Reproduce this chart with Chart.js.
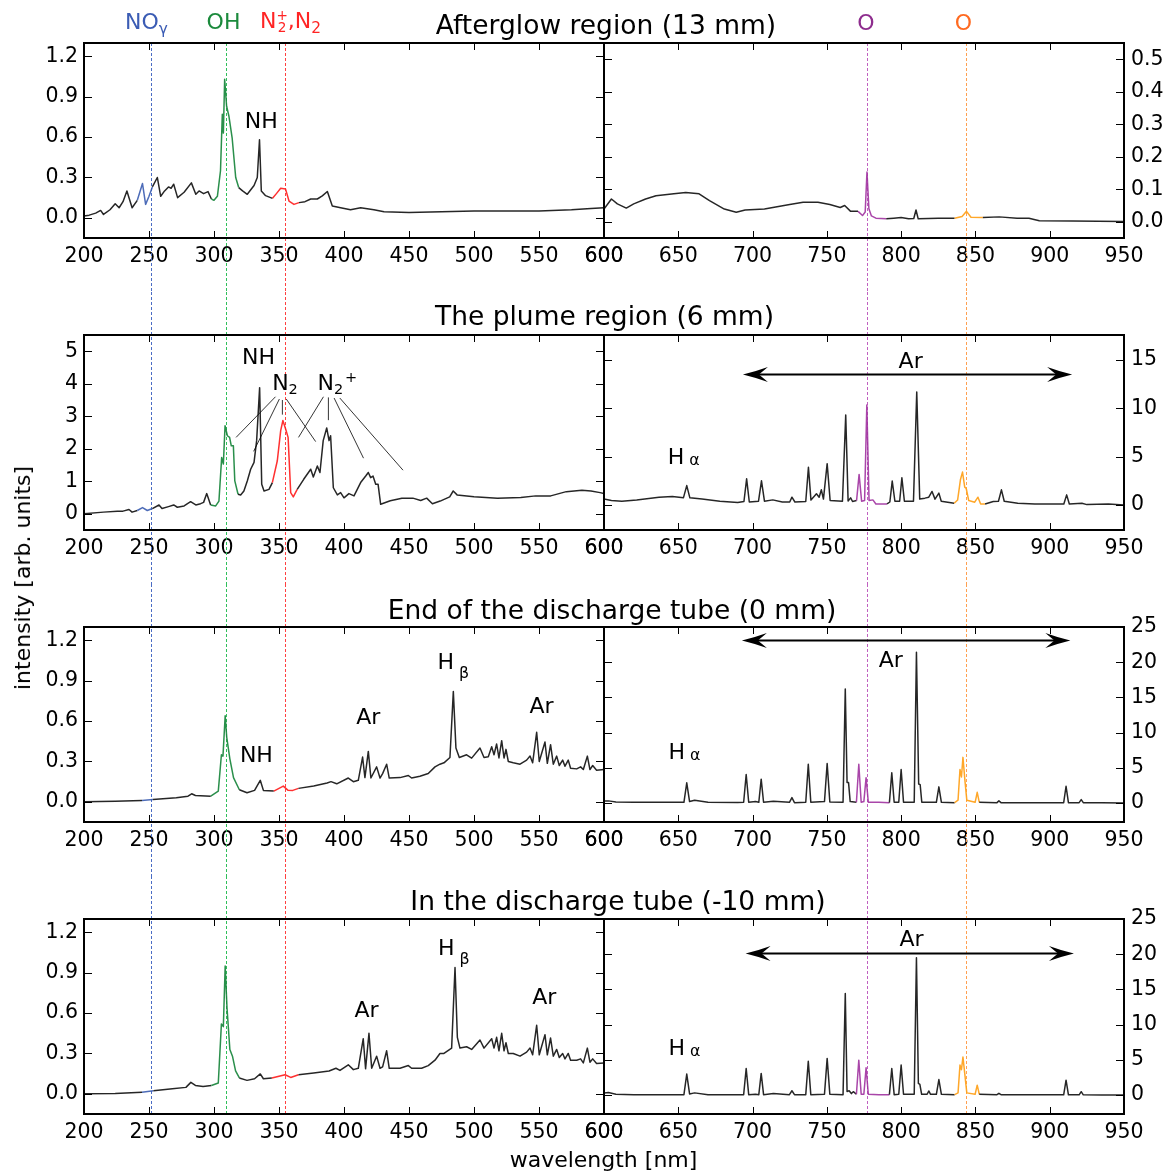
<!DOCTYPE html>
<html><head><meta charset="utf-8">
<script src="https://cdn.jsdelivr.net/npm/chart.js@4.4.1/dist/chart.umd.min.js"></script>
<style>
html,body{margin:0;padding:0;background:#fff;}
body{width:1169px;height:1175px;position:relative;overflow:hidden;font-family:'DejaVu Sans',sans-serif;color:#000;}
canvas{position:absolute;}
.lab{position:absolute;transform:translate(-50%,-50%);line-height:1;white-space:nowrap;z-index:5;}
.title{font-size:26.5px;}
.top{font-size:22px;}
.axl{font-size:22px;}
.sb{font-size:0.7em;position:relative;top:0.3em;}
.stk{display:inline-block;vertical-align:middle;font-size:0.62em;line-height:0.85;text-align:center;}
</style></head><body>
<div class="lab title" style="left:606px;top:25px">Afterglow region (13 mm)</div>
<div class="lab title" style="left:604.5px;top:316px">The plume region (6 mm)</div>
<div class="lab title" style="left:612px;top:609.5px">End of the discharge tube (0 mm)</div>
<div class="lab title" style="left:618px;top:901px">In the discharge tube (-10 mm)</div>
<div class="lab top" style="left:146.4px;top:22px;color:#3b5cb4">NO<span class="sb">γ</span></div>
<div class="lab top" style="left:223.5px;top:22px;color:#1b8a3c">OH</div>
<div class="lab top" style="left:290.5px;top:22px;color:#ff2424">N<span class="stk">+<br>2</span>,N<span class="sb">2</span></div>
<div class="lab top" style="left:866px;top:22.5px;color:#8e2d8e">O</div>
<div class="lab top" style="left:963.5px;top:22.5px;color:#ff6a20">O</div>
<div class="lab axl" style="left:23px;top:578px;transform:translate(-50%,-50%) rotate(-90deg)">intensity [arb. units]</div>
<div class="lab axl" style="left:603.5px;top:1160px">wavelength [nm]</div>
<script>
// ---------------- data ----------------
const X_TICKS_L = [200,250,300,350,400,450,500,550,600];
const X_TICKS_R = [600,650,700,750,800,850,900,950];
const Y_TICKS_FRAC = [0.0,0.3,0.6,0.9,1.2];
const Y_TICKS_AG_R = [0.0,0.1,0.2,0.3,0.4,0.5];
const Y_TICKS_PL_L = [0,1,2,3,4,5];
const Y_TICKS_PL_R = [0,5,10,15];
const Y_TICKS_25 = [0,5,10,15,20,25];

// Afterglow region (13 mm)
const AG_L_WL = [200,204,209,212.8,215,220,224,227,230,233,
 237,241,245,247.4,250,252.6,256.4,259,262,265,
 267,269,272,277,282.6,286,288.5,292,295.4,298,
 300,302.6,305,306.4,307.2,308.2,309.7,311.5,314,316.7,
 319,322,325.6,330.8,333.3,335,336.4,339.7,345,348,
 351.3,355,357.7,361.5,365.4,370,374.4,379.5,383.3,387.2,
 391,397.4,405,412.8,423,430.8,450,475,500,525,
 550,575,590,600];
const AG_L_I = [0.013,0.02,0.035,0.055,0.025,0.06,0.105,0.075,0.12,0.2,
 0.075,0.13,0.255,0.1,0.16,0.23,0.3,0.16,0.2,0.23,
 0.22,0.25,0.15,0.19,0.26,0.175,0.2,0.18,0.195,0.14,
 0.13,0.16,0.35,0.77,0.63,1.03,0.83,0.755,0.59,0.30,
 0.225,0.2,0.175,0.24,0.3,0.58,0.2,0.165,0.145,0.18,
 0.22,0.215,0.125,0.10,0.113,0.12,0.14,0.14,0.163,0.196,
 0.088,0.075,0.06,0.075,0.06,0.045,0.04,0.045,0.05,0.05,
 0.05,0.06,0.07,0.075];
const AG_R_WL = [600,605,609,615,620,628,635,647,655,664,
 671,681,689,695,708,725,734,744,752,759,
 762,766,771,774,775.8,777,778.3,780,783,790,
 795,800,805,808.5,810,811.5,825,836,841,844,
 847,855,866,878,886,893,915,950];
const AG_R_I = [0.039,0.07,0.055,0.042,0.055,0.07,0.08,0.086,0.09,0.086,
 0.065,0.039,0.029,0.036,0.039,0.053,0.06,0.06,0.053,0.044,
 0.05,0.032,0.032,0.019,0.03,0.153,0.04,0.018,0.011,0.009,
 0.011,0.013,0.009,0.01,0.036,0.009,0.011,0.011,0.016,0.032,
 0.014,0.013,0.015,0.011,0.011,0.003,0.002,0.001];

// The plume region (6 mm)
const PL_L_WL = [200,215,225.6,230,234.6,237,241,245,248.7,252.6,
 257.7,260,265,269,271.8,277,282,286,289.7,292,
 294.4,297.4,301.3,303.8,305.9,307.2,308.5,310.3,312,313.3,
 314.9,316,318.5,320.5,323,325.6,328.2,330.8,332.8,335.1,
 336.7,338.5,342.3,344.9,348.7,351.3,353,355.1,357,359,
 361,364,369,374.4,376.4,379.5,381.5,384,386.7,388.5,
 389.7,391.8,394.9,397.4,400,403.8,407.7,412.8,416.7,418.7,
 420.5,422.3,424.4,426.2,428.2,435.6,444.5,453,459,463.6,
 468,474,481.3,484,487,500,518,536,547.5,559,
 571,583,590,597,600];
const PL_L_I = [0,0.05,0.08,0.08,0.13,0.05,0.1,0.19,0.1,0.16,
 0.27,0.16,0.22,0.27,0.2,0.24,0.37,0.27,0.31,0.35,
 0.62,0.27,0.24,0.39,1.73,1.53,2.71,2.4,2.35,2.09,
 2.09,1.01,0.6,0.58,0.7,1.01,1.37,1.58,2.25,3.88,
 0.91,0.7,0.75,0.96,1.63,2.56,2.87,2.61,2.35,0.65,
 0.52,0.75,1.06,1.37,1.13,1.47,1.27,2.25,2.64,2.25,
 2.4,0.8,0.58,0.65,0.49,0.62,0.55,0.96,1.16,1.27,
 1.11,1.16,0.91,0.91,0.29,0.4,0.48,0.48,0.41,0.48,
 0.31,0.39,0.52,0.7,0.58,0.52,0.48,0.5,0.55,0.55,
 0.68,0.72,0.7,0.65,0.62];
const PL_R_WL = [600,605,612,622,637,646,653.5,655.7,657.8,666,
 678,690,694.2,696,697.8,704,706,708,713.6,720,
 725,726.5,728.5,735.8,737.6,739.3,743,744.8,746.3,747.7,
 750.2,752.2,760.5,762.7,764.3,766,767.3,770,771.7,773.4,
 775.4,776.9,778.4,781,783,790.5,792.4,794,795.8,799,
 800.5,802.2,808.3,810.5,812.5,816,818.6,820.8,822.8,825.4,
 827,835.7,838,839.9,841.3,842.8,843.8,845.5,849.5,851.7,
 853.5,856.5,862,865.5,867.5,869.4,878.5,890,900,909.5,
 911.4,913.2,921.7,925,939.5,950];
const PL_R_I = [0.6,0.45,0.38,0.52,0.8,0.87,0.75,2.0,0.73,0.6,
 0.38,0.24,0.35,2.7,0.3,0.38,2.5,0.38,0.52,0.3,
 0.3,0.8,0.3,0.35,3.9,0.5,1.15,0.8,1.56,0.6,
 4.27,0.45,0.38,9.3,0.4,0.73,0.35,0.45,3.16,0.38,
 0.45,10.35,0.45,0.52,0.1,0.1,0.3,2.47,0.38,0.38,
 2.8,0.38,0.38,11.7,0.6,0.7,0.8,1.39,0.6,1.22,
 0.38,0.17,0.5,2.6,3.4,1.84,1.7,0.45,0.28,0.8,
 0.1,0.1,0.35,0.38,1.56,0.38,0.17,0.1,0.1,0.1,
 1.04,0.1,0.17,0.03,0.1,0.0];

// End of the discharge tube (0 mm)
const EN_L_WL = [200,224,244.6,253,271,280,282.8,285.7,297.5,303.3,
 305.7,306.9,308.6,309.8,312.2,315,319.5,325.4,331.2,335.6,
 338,346,353.3,356.8,360.6,365,376.7,387,390,394.4,
 403.3,407.2,411.0,414.3,416.1,418.7,420.7,425.1,427.7,429.7,
 432.8,434.8,443.1,449.5,452.0,458.4,464.8,470.0,473.8,476.9,
 481.5,484.1,486.1,488.7,494.3,498.2,504.6,507.7,511.0,513.6,
 515.4,517.4,519.2,521.3,523.1,524.6,526.4,530.2,535.4,540.5,
 543.1,545.1,548.2,550.2,554.6,556.4,558.9,561.0,563.6,565.6,
 568.2,570.0,572.5,574.3,579.0,582.0,584.1,587.2,589.2,591.3,
 594.3,600];
const EN_L_I = [0,0.005,0.01,0.017,0.03,0.042,0.06,0.047,0.042,0.08,
 0.35,0.34,0.64,0.48,0.32,0.18,0.09,0.067,0.085,0.16,
 0.085,0.08,0.117,0.087,0.085,0.1,0.117,0.14,0.15,0.134,
 0.177,0.15,0.16,0.333,0.18,0.375,0.177,0.26,0.177,0.21,
 0.28,0.177,0.18,0.196,0.177,0.19,0.21,0.26,0.28,0.29,
 0.33,0.82,0.4,0.33,0.35,0.325,0.4,0.33,0.335,0.41,
 0.35,0.43,0.326,0.455,0.326,0.39,0.3,0.29,0.28,0.31,
 0.34,0.29,0.517,0.3,0.445,0.286,0.425,0.28,0.34,0.27,
 0.31,0.265,0.31,0.25,0.245,0.26,0.24,0.34,0.24,0.27,
 0.235,0.24];
const EN_R_WL = [600,603,608,620,640,653.8,655.7,657.6,661,670,
 690,694,695.7,697.4,702,704.2,705.8,707.4,714,724.8,
 726.5,728.2,735.8,737.5,739.2,748.4,750.2,752,760.9,762.4,
 763.6,764.6,765.7,769.9,771.5,773.1,774.9,776.4,777.9,785,
 792.1,793.7,795.3,798.4,800,801.6,808.8,810.3,811.8,812.8,
 813.9,823.7,825.4,827.1,836,838.3,839.6,840.6,841.6,842.8,
 844.2,849.8,851.2,852.6,864.5,865.8,867.2,880,909.4,911,
 912.6,919.8,921.2,922.6,935,950];
const EN_R_I = [0.3,0.3,0.15,0.12,0.1,0.1,2.86,0.2,0.4,0.1,
 0.08,0.1,4.05,0.1,0.2,0.1,3.38,0.1,0.25,0.1,
 0.76,0.05,0.1,5.5,0.1,0.2,5.6,0.15,0.1,16.2,
 2.9,2.9,0.2,0.1,5.5,0.1,0.2,3.6,0.1,0.1,
 0.05,4.3,0.1,0.1,4.76,0.1,0.1,21.4,2.7,2.6,
 0.1,0.1,2.29,0.1,0.05,0.4,4.76,3.7,6.48,3.5,
 0.4,0.1,1.52,0.1,0.05,0.3,0.05,0.05,0.05,2.38,
 0.05,0.05,0.48,0.05,0.02,0.0];

// In the discharge tube (-10 mm)
const IN_L_WL = [200,224,244.6,253.4,268,278.4,282.2,285.7,291.6,298,
 303.3,305.7,307.2,308.6,310,312.2,314.2,316.6,319.5,325.4,
 331.2,335.6,338,344.5,354.7,359,365,376.7,388.5,393.8,
 396.9,403.3,407.2,411.0,414.8,416.6,419.2,421.3,425.1,427.7,
 429.7,432.8,434.8,443.1,449.5,452.0,459.7,464.8,470.0,473.8,
 476.9,482.8,485.4,487.2,489.2,494.3,498.2,504.6,507.7,513.6,
 515.4,517.4,519.2,521.3,523.1,524.6,526.4,530.2,535.4,540.5,
 543.1,545.1,548.2,550.2,554.6,556.4,558.9,561.0,563.6,565.6,
 568.2,570.0,572.5,574.3,579.0,582.0,584.1,587.2,589.2,591.3,
 594.3,600];
const IN_L_I = [0,0.002,0.012,0.022,0.037,0.048,0.085,0.062,0.055,0.062,
 0.08,0.52,0.5,0.95,0.64,0.33,0.28,0.17,0.118,0.1,
 0.112,0.148,0.112,0.118,0.142,0.122,0.142,0.155,0.17,0.19,
 0.174,0.216,0.18,0.19,0.41,0.186,0.45,0.19,0.28,0.19,
 0.2,0.32,0.19,0.19,0.21,0.19,0.19,0.21,0.25,0.3,
 0.3,0.34,0.94,0.42,0.34,0.35,0.33,0.4,0.34,0.41,
 0.34,0.42,0.32,0.45,0.32,0.38,0.3,0.3,0.28,0.31,
 0.34,0.29,0.51,0.29,0.44,0.29,0.415,0.28,0.33,0.27,
 0.3,0.26,0.3,0.25,0.25,0.26,0.23,0.34,0.235,0.26,
 0.225,0.23];
const IN_R_WL = [600,603,608,620,640,653.8,655.7,657.6,661,670,
 690,694,695.7,697.4,702,704.2,705.8,707.4,714,724.8,
 726.5,728.2,735.8,737.5,739.2,748.4,750.2,752,760.9,762.4,
 763.6,765,766.5,767.8,769.9,771.5,773.1,774.9,776.4,777.9,
 785,792.1,793.7,795.3,798.4,800,801.6,808.8,810.3,811.6,
 812.6,813.8,817.5,818.6,819.8,823.7,825.4,827.1,836,838.3,
 839.6,840.6,841.6,842.8,844.2,849.8,851.2,852.6,864.5,865.8,
 867.2,880,909.4,911,912.6,919.8,921.2,922.6,935,950];
const IN_R_I = [0.3,0.35,0.1,0.05,0.05,0.05,2.97,0.15,0.3,0.05,
 0.05,0.05,3.77,0.05,0.1,0.05,3.07,0.05,0.2,0.05,
 0.6,0.05,0.05,4.8,0.05,0.1,5.2,0.1,0.05,14.4,
 0.5,0.6,0.2,0.47,0.1,4.95,0.1,0.1,3.87,0.1,
 0.05,0.05,3.77,0.05,0.1,4.25,0.1,0.1,19.5,1.65,
 1.5,0.1,0.1,0.57,0.1,0.1,2.2,0.1,0.05,0.3,
 4.25,3.6,5.4,3.07,0.3,0.1,1.4,0.1,0.05,0.24,
 0.05,0.02,0.02,2.1,0.02,0.02,0.47,0.02,0.0,0.0];

// marker wavelengths (dotted lines)
const MARK_WL_L = [251.8, 309.6, 354.6];
const MARK_WL_R = [777.1, 843.8];

// ---------------- styles ----------------
const MARK_COL_L = ['#4a6cc4','#2fbf5a','#ff4040'];
const MARK_COL_R = ['#c060c0','#ffa050'];
const BANDS = [
  {lo:241, hi:253.5, c:'rgba(58,92,176,0.9)'},
  {lo:297.5, hi:318.5, c:'rgba(24,134,60,0.92)'},
  {lo:344.5, hi:364, c:'rgba(255,30,30,0.92)'},
  {lo:769.5, hi:790.5, c:'rgba(160,50,160,0.9)'},
  {lo:835.5, hi:855.5, c:'rgba(255,162,30,0.95)'}
];
function bandColor(x){
  for (const b of BANDS) if (x >= b.lo && x <= b.hi) return b.c;
  return undefined;
}

const HA = [['H'],[' ',0.72],['α',0.72,0.05]];
const HB = [['H'],[' ',0.72],['β',0.72,0.38]];
const N2 = [['N'],['2',0.66,0.2]];
const N2P = [['N'],['2',0.66,0.2],['+',0.66,-0.37,0.08]];

const PANELS = [
 {row:0, side:'L', wl:AG_L_WL, it:AG_L_I, xr:[200,600], yr:[-0.15,1.3], xt:X_TICKS_L, yt:Y_TICKS_FRAC, dec:1,
  ann:[{t:'text', x:336.3, y:0.727, parts:[['NH']]}]},
 {row:0, side:'R', wl:AG_R_WL, it:AG_R_I, xr:[600,950], yr:[-0.05,0.55], xt:X_TICKS_R, yt:Y_TICKS_AG_R, dec:1, ann:[]},
 {row:1, side:'L', wl:PL_L_WL, it:PL_L_I, xr:[200,600], yr:[-0.5,5.5], xt:X_TICKS_L, yt:Y_TICKS_PL_L, dec:0,
  ann:[{t:'text', x:334.2, y:4.85, parts:[['NH']]},
       {t:'text', x:354.6, y:4.06, parts:N2},
       {t:'text', x:394.9, y:4.06, parts:N2P},
       {t:'line', x1:347.3,y1:3.6,x2:317,y2:2.35},
       {t:'line', x1:350.3,y1:3.53,x2:330.5,y2:1.92},
       {t:'line', x1:352.6,y1:3.5,x2:352.6,y2:3.05},
       {t:'line', x1:355.6,y1:3.53,x2:378.2,y2:2.22},
       {t:'line', x1:384.2,y1:3.6,x2:365,y2:2.35},
       {t:'line', x1:388,y1:3.58,x2:388,y2:2.88},
       {t:'line', x1:392.4,y1:3.56,x2:415,y2:1.71},
       {t:'line', x1:396.8,y1:3.56,x2:445.4,y2:1.34}]},
 {row:1, side:'R', wl:PL_R_WL, it:PL_R_I, xr:[600,950], yr:[-2.6,17.6], xt:X_TICKS_R, yt:Y_TICKS_PL_R, dec:0,
  ann:[{t:'text', x:806.4, y:15.0, parts:[['Ar']]},
       {t:'arrow', x1:693.5, x2:915.1, y:13.5},
       {t:'text', x:653.7, y:5.09, parts:HA}]},
 {row:2, side:'L', wl:EN_L_WL, it:EN_L_I, xr:[200,600], yr:[-0.15,1.3], xt:X_TICKS_L, yt:Y_TICKS_FRAC, dec:1,
  ann:[{t:'text', x:332.6, y:0.357, parts:[['NH']]},
       {t:'text', x:418.7, y:0.64, parts:[['Ar']]},
       {t:'text', x:484.1, y:1.045, parts:HB},
       {t:'text', x:552, y:0.72, parts:[['Ar']]}]},
 {row:2, side:'R', wl:EN_R_WL, it:EN_R_I, xr:[600,950], yr:[-2.7,25], xt:X_TICKS_R, yt:Y_TICKS_25, dec:0,
  ann:[{t:'text', x:793, y:20.4, parts:[['Ar']]},
       {t:'arrow', x1:692.8, x2:913.9, y:23.1},
       {t:'text', x:654.2, y:7.36, parts:HA}]},
 {row:3, side:'L', wl:IN_L_WL, it:IN_L_I, xr:[200,600], yr:[-0.15,1.3], xt:X_TICKS_L, yt:Y_TICKS_FRAC, dec:1,
  ann:[{t:'text', x:417.4, y:0.63, parts:[['Ar']]},
       {t:'text', x:484.4, y:1.09, parts:HB},
       {t:'text', x:554, y:0.73, parts:[['Ar']]}]},
 {row:3, side:'R', wl:IN_R_WL, it:IN_R_I, xr:[600,950], yr:[-2.7,25], xt:X_TICKS_R, yt:Y_TICKS_25, dec:0,
  ann:[{t:'text', x:807, y:22.3, parts:[['Ar']]},
       {t:'arrow', x1:695.3, x2:916.3, y:20.1},
       {t:'text', x:654.2, y:6.84, parts:HA}]}
];

const FONT = "'DejaVu Sans', sans-serif";
Chart.defaults.font.family = FONT;
Chart.defaults.font.size = 20.5;
Chart.defaults.color = '#000';

function drawParts(ctx, cx, cy, parts, size){
  let total = 0;
  const items = parts.map(q => {
    const s = q[1] || 1;
    ctx.font = (size*s) + 'px ' + FONT;
    const w = ctx.measureText(q[0]).width;
    const dx = (q[3] || 0) * size;
    total += w + dx;
    return {t:q[0], s, dy:(q[2]||0)*size, dx, w};
  });
  let x = cx - total/2;
  const base = cy + size*0.365;
  ctx.textAlign = 'left'; ctx.textBaseline = 'alphabetic'; ctx.fillStyle = '#000';
  items.forEach(it => {
    x += it.dx;
    ctx.font = (size*it.s) + 'px ' + FONT;
    ctx.fillText(it.t, x, base + it.dy);
    x += it.w;
  });
}
function arrowHead(ctx, tip, y, dir){
  const L = 25, W = 7.5, N = 16;
  ctx.beginPath();
  ctx.moveTo(tip, y);
  ctx.quadraticCurveTo(tip - dir*L*0.55, y - W*0.45, tip - dir*L, y - W);
  ctx.lineTo(tip - dir*N, y);
  ctx.lineTo(tip - dir*L, y + W);
  ctx.quadraticCurveTo(tip - dir*L*0.55, y + W*0.45, tip, y);
  ctx.closePath();
  ctx.fill();
}

function makePlugin(p){
  return {
    id: 'deco' + p.row + p.side,
    beforeDatasetsDraw(chart){
      const ctx = chart.ctx, a = chart.chartArea, xs = chart.scales.x;
      const y0 = p.row === 0 ? a.top : 0;
      const y1 = p.row === 3 ? a.bottom : chart.height;
      const wls = p.side === 'L' ? MARK_WL_L : MARK_WL_R;
      const cols = p.side === 'L' ? MARK_COL_L : MARK_COL_R;
      ctx.save();
      ctx.lineWidth = 1; ctx.setLineDash([3,2]);
      wls.forEach((w,i) => {
        const px = Math.round(xs.getPixelForValue(w)) + 0.5;
        ctx.strokeStyle = cols[i];
        ctx.beginPath(); ctx.moveTo(px, y0); ctx.lineTo(px, y1); ctx.stroke();
      });
      ctx.restore();
    },
    afterDatasetsDraw(chart){
      const ctx = chart.ctx, a = chart.chartArea, xs = chart.scales.x, ys = chart.scales.y;
      ctx.save();
      p.ann.forEach(n => {
        if (n.t === 'text') {
          drawParts(ctx, xs.getPixelForValue(n.x), ys.getPixelForValue(n.y), n.parts, 22);
        } else if (n.t === 'line') {
          ctx.strokeStyle = '#000'; ctx.lineWidth = 0.8;
          ctx.beginPath();
          ctx.moveTo(xs.getPixelForValue(n.x1), ys.getPixelForValue(n.y1));
          ctx.lineTo(xs.getPixelForValue(n.x2), ys.getPixelForValue(n.y2));
          ctx.stroke();
        } else if (n.t === 'arrow') {
          const x1 = xs.getPixelForValue(n.x1), x2 = xs.getPixelForValue(n.x2), y = ys.getPixelForValue(n.y);
          ctx.strokeStyle = '#000'; ctx.fillStyle = '#000'; ctx.lineWidth = 2;
          ctx.beginPath(); ctx.moveTo(x1 + 12, y); ctx.lineTo(x2 - 12, y); ctx.stroke();
          arrowHead(ctx, x1, y, -1);
          arrowHead(ctx, x2, y, 1);
        }
      });
      // inward ticks on all four sides
      ctx.strokeStyle = '#000'; ctx.lineWidth = 1;
      ctx.beginPath();
      p.xt.forEach(v => {
        const px = Math.round(xs.getPixelForValue(v)) + 0.5;
        ctx.moveTo(px, a.bottom); ctx.lineTo(px, a.bottom - 7);
        ctx.moveTo(px, a.top); ctx.lineTo(px, a.top + 7);
      });
      p.yt.forEach(v => {
        const py = Math.round(ys.getPixelForValue(v)) + 0.5;
        ctx.moveTo(a.left, py); ctx.lineTo(a.left + 8, py);
        ctx.moveTo(a.right, py); ctx.lineTo(a.right - 8, py);
      });
      ctx.stroke();
      ctx.lineWidth = 2;
      ctx.strokeRect(a.left, a.top, a.right - a.left, a.bottom - a.top);
      ctx.restore();
    }
  };
}

PANELS.forEach(p => {
  const isL = p.side === 'L';
  const W = isL ? 640 : 599, H = 292;
  const cv = document.createElement('canvas');
  cv.width = W; cv.height = H;
  cv.style.left = (isL ? 0 : 570) + 'px';
  cv.style.top = (p.row * 292) + 'px';
  cv.style.width = W + 'px'; cv.style.height = H + 'px';
  document.body.appendChild(cv);
  const n = Math.min(p.wl.length, p.it.length);
  const pts = [];
  for (let i = 0; i < n; i++) pts.push({x:p.wl[i], y:p.it[i]});
  new Chart(cv.getContext('2d'), {
    type:'line',
    data:{datasets:[{data:pts, borderColor:'rgba(0,0,0,0.85)', borderWidth:1.5, pointRadius:0, pointHoverRadius:0,
      tension:0, fill:false, borderJoinStyle:'round',
      segment:{borderColor: c => bandColor((c.p0.parsed.x + c.p1.parsed.x)/2)}}]},
    options:{
      responsive:false, maintainAspectRatio:false, animation:false, devicePixelRatio:1, events:[],
      layout:{padding:{top:43, bottom:0, left:isL?0:34, right:isL?36:0}},
      plugins:{legend:{display:false}, tooltip:{enabled:false}, title:{display:false}},
      scales:{
        x:{type:'linear', position:'bottom', min:p.xr[0], max:p.xr[1],
          afterBuildTicks: s => { s.ticks = p.xt.map(v => ({value:v})); },
          afterFit: s => { s.height = 54; },
          grid:{display:false, drawTicks:false}, border:{display:false},
          ticks:{autoSkip:false, maxRotation:0, minRotation:0, padding:6, callback: v => String(v)}},
        y:{type:'linear', position:isL?'left':'right', min:p.yr[0], max:p.yr[1],
          afterBuildTicks: s => { s.ticks = p.yt.map(v => ({value:v})); },
          afterFit: s => { s.width = isL ? 84 : 45; },
          grid:{display:false, drawTicks:false}, border:{display:false},
          ticks:{autoSkip:false, padding:isL?6:7, callback: v => Number(v).toFixed(p.dec)}}
      }
    },
    plugins:[makePlugin(p)]
  });
});
</script>
</body></html>
